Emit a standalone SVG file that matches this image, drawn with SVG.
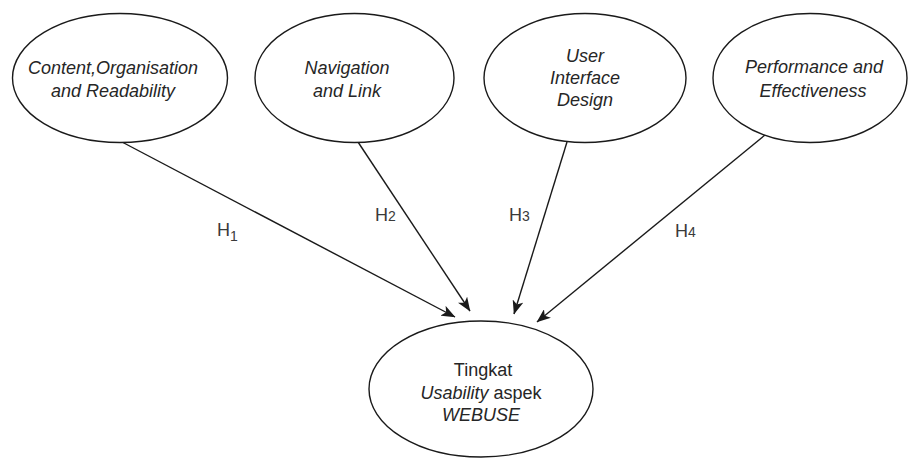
<svg xmlns="http://www.w3.org/2000/svg" width="908" height="458" viewBox="0 0 908 458">
  <style>
    .node ellipse { fill: #ffffff; stroke: #1a1a1a; stroke-width: 1.4; }
    .node text { font-family: "Liberation Sans", Arial, sans-serif; font-size: 18px; fill: #262626; text-anchor: middle; }
    .it { font-style: italic; }
    .edge { stroke: #1a1a1a; stroke-width: 1.4; fill: none; marker-end: url(#arrow); }
    .hyp { font-family: "Liberation Sans", Arial, sans-serif; font-size: 18px; fill: #3a3a3a; }
  </style>
  <defs>
    <marker id="arrow" viewBox="0 0 14 11" refX="13.5" refY="5.5" markerWidth="14" markerHeight="11" markerUnits="userSpaceOnUse" orient="auto">
      <path d="M0,0 L14,5.5 L0,11 L3.5,5.5 z" fill="#1a1a1a"/>
    </marker>
  </defs>

  <rect width="908" height="458" fill="#ffffff"/>

  <!-- hypothesis paths -->
  <g id="connectors">
    <line class="edge" x1="122" y1="142" x2="455" y2="317"/>
    <line class="edge" x1="358" y1="142" x2="470" y2="311"/>
    <line class="edge" x1="567" y1="142" x2="514" y2="314"/>
    <line class="edge" x1="765" y1="135" x2="537" y2="322"/>
    <text class="hyp" x="217" y="236">H<tspan font-size="14" dy="5">1</tspan></text>
    <text class="hyp" x="375" y="221">H<tspan font-size="14">2</tspan></text>
    <text class="hyp" x="509" y="221">H<tspan font-size="14">3</tspan></text>
    <text class="hyp" x="675" y="237">H<tspan font-size="14">4</tspan></text>
  </g>

  <g id="content-organisation" class="node">
    <ellipse cx="120" cy="78" rx="107.5" ry="64.5"/>
    <text class="it" x="113" y="74">Content,Organisation</text>
    <text class="it" x="113" y="96.5">and Readability</text>
  </g>

  <g id="navigation-link" class="node">
    <ellipse cx="354.5" cy="78" rx="99.5" ry="64.5"/>
    <text class="it" x="347" y="73.5">Navigation</text>
    <text class="it" x="347" y="96.5">and Link</text>
  </g>

  <g id="user-interface" class="node">
    <ellipse cx="585" cy="78" rx="101" ry="64.5"/>
    <text class="it" x="585" y="62">User</text>
    <text class="it" x="585" y="84">Interface</text>
    <text class="it" x="585" y="106">Design</text>
  </g>

  <g id="performance" class="node">
    <ellipse cx="810" cy="78" rx="97" ry="64.5"/>
    <text class="it" x="814" y="73">Performance and</text>
    <text class="it" x="813" y="96.5">Effectiveness</text>
  </g>

  <g id="usability" class="node">
    <ellipse cx="481" cy="389" rx="112" ry="68"/>
    <text x="483" y="376">Tingkat</text>
    <text x="481" y="398.5"><tspan class="it">Usability</tspan> aspek</text>
    <text class="it" x="481" y="421">WEBUSE</text>
  </g>
</svg>
